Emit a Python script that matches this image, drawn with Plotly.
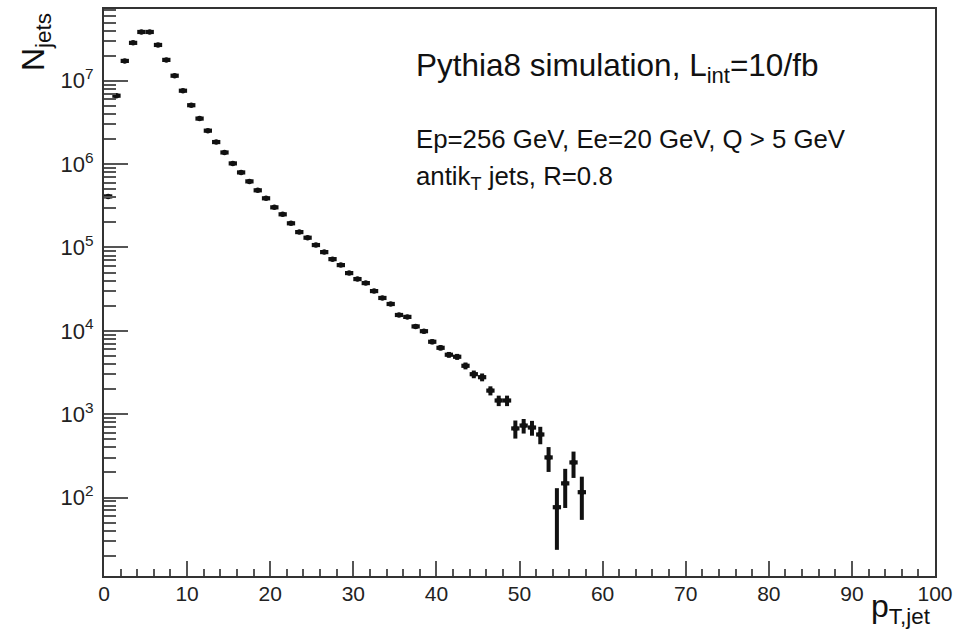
import plotly.graph_objects as go

# Jet transverse-momentum spectrum, 1 GeV bins from 0 to 58 GeV
bin_low = list(range(0, 58))
bin_center = [b + 0.5 for b in bin_low]
bin_halfwidth = [0.5] * len(bin_low)

n_jets = [
    4.10e5, 6.62e6, 1.73e7, 2.85e7, 3.85e7, 3.85e7, 2.69e7, 1.78e7, 1.15e7, 7.6e6,
    5.09e6, 3.52e6, 2.52e6, 1.84e6, 1.38e6, 1.02e6, 7.95e5, 6.21e5, 4.85e5, 3.89e5,
    3.03e5, 2.50e5, 1.95e5, 1.53e5, 1.31e5, 1.07e5, 8.8e4, 7.25e4, 6.15e4, 4.93e4,
    4.18e4, 3.74e4, 3.0e4, 2.48e4, 2.1e4, 1.55e4, 1.47e4, 1.13e4, 9.9e3, 7.4e3,
    6.26e3, 5.17e3, 4.89e3, 3.81e3, 3.02e3, 2.78e3, 1.92e3, 1.46e3, 1.46e3, 675,
    731, 692, 571, 303, 76.6, 148, 264, 116,
]

n_jets_err = [
    3700, 15000, 24000, 31000, 36000, 36000, 30000, 24000, 19000, 16000,
    13000, 11000, 9000, 7800, 6700, 5800, 5100, 4500, 4000, 3600,
    3200, 2900, 2500, 2200, 2100, 1900, 1700, 1550, 1420, 1280,
    1170, 1110, 1000, 900, 830, 720, 700, 610, 570, 500,
    450, 410, 400, 360, 320, 300, 240, 210, 210, 165,
    145, 140, 135, 100, 53, 73, 92, 62,
]

x_ticks = [0, 10, 20, 30, 40, 50, 60, 70, 80, 90, 100]
y_tick_vals = [1e2, 1e3, 1e4, 1e5, 1e6, 1e7]
y_tick_text = ["10<sup>2</sup>", "10<sup>3</sup>", "10<sup>4</sup>",
               "10<sup>5</sup>", "10<sup>6</sup>", "10<sup>7</sup>"]

W, H = 960, 642
L, R, T, B = 104, 20, 7, 66
PW, PH = W - L - R, H - T - B

FONT = "Liberation Sans, Arial, Helvetica, sans-serif"
INK = "#111111"


def px(xp):
    return (xp - L) / PW


def py(yp):
    return (H - B - yp) / PH


fig = go.Figure()
fig.add_trace(go.Scatter(
    x=bin_center,
    y=n_jets,
    mode="markers",
    marker=dict(symbol="circle", size=5.5, color=INK),
    error_x=dict(type="data", array=bin_halfwidth, visible=True,
                 thickness=4.2, width=0, color=INK),
    error_y=dict(type="data", array=n_jets_err, visible=True,
                 thickness=4, width=0, color=INK),
    showlegend=False,
    hoverinfo="x+y",
))

fig.update_layout(
    width=W, height=H,
    margin=dict(l=L, r=R, t=T, b=B, pad=0),
    paper_bgcolor="white",
    plot_bgcolor="white",
    font=dict(family=FONT, color=INK),
    xaxis=dict(
        range=[0, 100],
        tickmode="array", tickvals=x_ticks,
        ticks="inside", ticklen=15, tickwidth=1.5, tickcolor="#555555",
        minor=dict(ticks="inside", ticklen=7, tickwidth=1.5,
                   tickcolor="#555555", dtick=2, showgrid=False),
        showline=True, linecolor="#333333", linewidth=2, mirror=True,
        showgrid=False, zeroline=False,
        tickfont=dict(size=21, family=FONT, color="#222222"),
        ticklabelstandoff=-2,
    ),
    yaxis=dict(
        type="log",
        range=[1.059, 7.861],
        tickmode="array", tickvals=y_tick_vals, ticktext=y_tick_text,
        ticks="inside", ticklen=24, tickwidth=1.5, tickcolor="#555555",
        minor=dict(ticks="inside", ticklen=12, tickwidth=1.5,
                   tickcolor="#555555", dtick="D1", showgrid=False),
        showline=True, linecolor="#333333", linewidth=2, mirror=True,
        showgrid=False, zeroline=False,
        tickfont=dict(size=22, family=FONT, color="#222222"),
        ticklabelstandoff=4,
    ),
)

annotations = [
    dict(text="Pythia8 simulation, L<sub>int</sub>=10/fb",
         x=px(416), y=py(66), xanchor="left", yanchor="middle",
         font=dict(size=31.5)),
    dict(text="Ep=256 GeV, Ee=20 GeV, Q > 5 GeV",
         x=px(416), y=py(137), xanchor="left", yanchor="middle",
         font=dict(size=25.8)),
    dict(text="antik<sub>T</sub> jets, R=0.8",
         x=px(416), y=py(177), xanchor="left", yanchor="middle",
         font=dict(size=25.8)),
    dict(text="N<sub>jets</sub>", textangle=-90,
         x=px(13), y=py(9), xanchor="left", yanchor="top",
         font=dict(size=32)),
    dict(text="p<sub>T,jet</sub>",
         x=px(938), y=py(631), xanchor="right", yanchor="bottom",
         font=dict(size=32)),
]
for a in annotations:
    a.update(xref="paper", yref="paper", showarrow=False)
    a["font"].update(family=FONT, color=INK)
fig.update_layout(annotations=annotations)

fig.write_html("out.html")
